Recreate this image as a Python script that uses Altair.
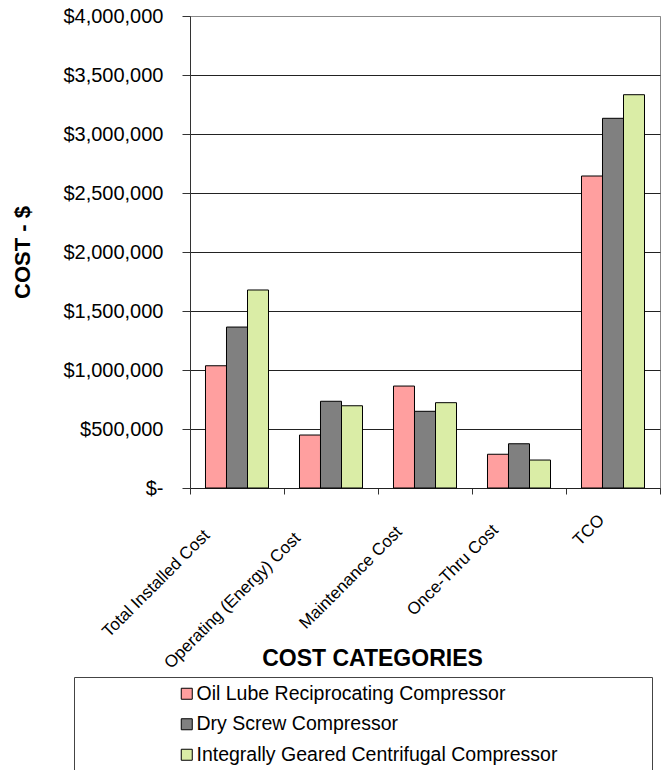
import altair as alt
import pandas as pd

categories = ["Total Installed Cost", "Operating (Energy) Cost", "Maintenance Cost", "Once-Thru Cost", "TCO"]
series = ["Oil Lube Reciprocating Compressor", "Dry Screw Compressor", "Integrally Geared Centrifugal Compressor"]
oil_lube = [1036000, 449000, 864000, 286000, 2644000]
dry_screw = [1364000, 735000, 650000, 375000, 3133000]
geared = [1678000, 697000, 723000, 237000, 3333000]
colors = ["#FF9F9F", "#808080", "#DAEDA6"]
y_ticks = [0, 500000, 1000000, 1500000, 2000000, 2500000, 3000000, 3500000, 4000000]

rows = []
for s, vals in zip(series, [oil_lube, dry_screw, geared]):
    for c, v in zip(categories, vals):
        rows.append({"category": c, "series": s, "cost": v})
df = pd.DataFrame(rows)
cat_df = pd.DataFrame({"category": categories})

FONT = "Liberation Sans"

x_axis = alt.Axis(
    title="COST CATEGORIES", titleFont=FONT, titleFontSize=23, titleFontWeight="bold",
    titleColor="black", titleX=182, titleY=170, titleBaseline="middle", titleAlign="center",
    labels=False, tickBand="extent", tickSize=6,
    tickColor="#333", domainColor="#222", grid=False,
)
x_scale = alt.Scale(paddingInner=0, paddingOuter=0)
y_scale = alt.Scale(domain=[0, 4000000], nice=False)
y_axis = alt.Axis(
    values=y_ticks,
    labelExpr="datum.value == 0 ? '$-' : format(datum.value, '$,.0f')",
    title="COST - $", titleFont=FONT, titleFontSize=22, titleFontWeight="bold",
    titleColor="black", titleX=-168, titleY=236, titleBaseline="middle", titleAlign="center",
    titleAngle=270,
    labelFont=FONT, labelFontSize=20, labelColor="black", labelPadding=19,
    tickSize=8, tickColor="#333", domainColor="#333",
    grid=True, gridColor=alt.condition("datum.value == 4000000", alt.value("#888"), alt.value("#222")),
    gridWidth=1,
)

bars = alt.Chart(df).mark_bar(stroke="black", strokeWidth=1).encode(
    x=alt.X("category:N", sort=categories, scale=x_scale, axis=x_axis),
    xOffset=alt.XOffset("series:N", sort=series, scale=alt.Scale(paddingInner=0, paddingOuter=0.738)),
    y=alt.Y("cost:Q", scale=y_scale, axis=y_axis),
    color=alt.Color(
        "series:N", sort=series,
        scale=alt.Scale(domain=series, range=colors),
        legend=alt.Legend(
            orient="none", legendX=-116, legendY=661, title=None,
            strokeColor="#444", fillColor="white", padding=7,
            symbolType="square", symbolSize=121, symbolStrokeColor="black", symbolStrokeWidth=1,
            symbolOpacity=1, symbolOffset=96,
            labelExpr="datum.label + '" + "\u00a0" * 16 + "\u200b'",
            labelFont=FONT, labelFontSize=19.5, labelColor="black", labelLimit=1000, labelOffset=0,
            rowPadding=9.5,
        ),
    ),
)

labels = alt.Chart(cat_df).mark_text(
    angle=315, align="right", baseline="middle", font=FONT, fontSize=17, color="black",
    dx={"expr": "-1.414*length(datum.category) - 24.7"},
    dy={"expr": "13.4 - 0.14*length(datum.category)"},
).encode(
    x=alt.X("category:N", sort=categories, scale=x_scale, axis=x_axis),
    y=alt.Y(datum=0, type="quantitative", scale=y_scale, axis=y_axis),
    text="category:N",
)

chart = alt.layer(bars, labels).properties(
    width=470, height=472,
    autosize=alt.AutoSizeParams(type="none"),
    padding={"left": 190, "top": 16, "right": 1, "bottom": 282},
).configure_view(stroke="#888", strokeWidth=1)

chart.save("out.html", embed_options={"renderer": "svg", "actions": False})
